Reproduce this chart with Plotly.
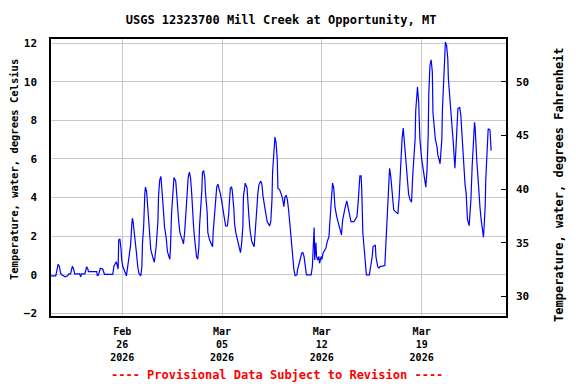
import pandas as pd
import plotly.graph_objects as go

# ---------------- data ----------------
start_time = "2026-02-21 00:00"
hours_since_start = [
    0, 8, 10, 12, 14, 16, 18, 21, 24, 28, 30, 33, 35, 36, 38, 40, 48, 50, 51, 57,
    59, 60, 62, 63, 77, 78, 80, 82, 83, 87, 88, 90, 104, 106, 110, 111, 113, 114, 116, 118,
    119, 121, 126, 127, 129, 132, 134, 136, 137, 138, 140, 142, 144, 146, 148, 151, 153, 154, 156, 158,
    159, 161, 163, 165, 167, 168, 171, 174, 177, 180, 181, 183, 185, 186, 188, 190, 191, 194, 196, 200,
    201, 203, 205, 207, 210, 212, 213, 215, 217, 218, 220, 222, 223, 225, 227, 229, 231, 233, 235, 237,
    238, 240, 242, 244, 245, 247, 249, 250, 252, 254, 255, 257, 259, 260, 263, 264, 267, 269, 272, 273,
    276, 278, 279, 281, 283, 285, 287, 290, 291, 294, 297, 299, 301, 302, 304, 305, 308, 309, 311, 314,
    316, 319, 321, 323, 324, 327, 330, 331, 333, 335, 337, 338, 342, 343, 346, 348, 350, 353, 355, 357,
    360, 362, 364, 368, 370, 372, 373, 375, 377, 379, 381, 382, 385, 388, 390, 392, 394, 396, 398, 400,
    402, 404, 405, 407, 409, 411, 414, 415, 417, 419, 420, 422, 424, 426, 427, 429, 430, 438, 440, 443,
    444, 446, 447, 449, 451, 452, 455, 456, 458, 461, 463, 465, 468, 469, 471, 473, 474, 476, 478, 481,
    485, 486, 489, 491, 493, 495, 498, 500, 501, 503, 505, 510, 512, 515, 517, 518, 519, 520, 522, 523,
    525, 527, 530, 531, 536, 537, 539, 541, 542, 544, 546, 547, 549, 550, 552, 554, 562, 564, 565, 567,
    569, 570, 572, 574, 576, 577, 579, 584, 586, 587, 589, 591, 593, 595, 597, 599, 601, 602, 604, 607,
    609, 613, 614, 616, 617, 619, 621, 624, 626, 628, 630, 631, 633, 635, 636, 638, 640, 642, 643, 645,
    647, 650, 651, 655, 658, 659, 662, 663, 664, 666, 668, 669, 672, 673, 675, 677, 678, 680, 682, 683,
    685, 688, 690, 692, 694, 695, 697, 699, 700, 701, 704, 707, 709, 711, 713, 714, 715, 717, 719, 720,
    722, 724, 726, 728, 729, 731, 732, 734, 736, 739, 740, 741,
]
temp_c = [
    -0.05, -0.05, 0.25, 0.55, 0.45, 0.1, 0.0, -0.05, -0.1, -0.05, 0.05, 0.05, 0.3, 0.45, 0.3, 0.05, 0.05, -0.1, 0.05, 0.05,
    0.3, 0.42, 0.3, 0.17, 0.17, -0.05, 0.0, 0.3, 0.34, 0.3, 0.15, 0.03, 0.03, 0.46, 0.68, 0.5, 0.3, 1.8, 1.86, 1.29,
    0.77, 0.42, 0.08, -0.05, 0.4, 1.03, 1.55, 2.6, 2.93, 2.8, 2.3, 1.8, 1.1, 0.42, 0.08, -0.05, 0.42, 1.64, 2.5, 4.23,
    4.54, 4.3, 3.36, 2.5, 1.8, 1.3, 0.95, 0.65, 1.46, 2.76, 4.05, 4.9, 5.1, 4.8, 3.88, 3.0, 2.5, 1.9, 1.2, 0.81,
    1.3, 3.19, 4.4, 5.04, 4.85, 4.05, 3.27, 2.76, 2.2, 2.07, 1.9, 1.72, 1.6, 2.2, 3.19, 4.4, 5.06, 5.32, 5.0, 4.14,
    3.27, 2.5, 1.8, 1.38, 0.95, 0.81, 1.46, 2.5, 3.27, 4.4, 5.3, 5.4, 5.0, 4.3, 3.19, 2.2, 1.8, 1.64, 1.46, 2.2,
    3.19, 4.14, 4.54, 4.69, 4.5, 4.22, 3.88, 3.19, 2.93, 2.53, 2.53, 3.1, 4.05, 4.5, 4.54, 4.4, 3.36, 2.67, 2.2, 1.8,
    1.38, 1.15, 1.64, 2.5, 4.05, 4.75, 4.5, 3.88, 3.1, 2.33, 1.98, 1.72, 1.46, 2.07, 3.19, 4.14, 4.66, 4.86, 4.7, 4.05,
    3.36, 3.1, 2.76, 2.53, 2.76, 3.88, 5.3, 6.56, 7.13, 6.82, 5.9, 4.49, 4.4, 4.14, 3.93, 3.53, 4.05, 4.1, 3.88, 3.36,
    2.67, 2.17, 1.46, 0.77, 0.26, -0.04, 0.0, 0.26, 0.5, 0.6, 0.86, 1.12, 1.15, 0.95, 0.6, 0.26, 0.0, 0.0, 0.43, 2.45,
    0.77, 1.67, 0.95, 0.77, 0.95, 0.6, 0.95, 0.8, 1.12, 1.29, 1.4, 1.72, 1.98, 2.5, 3.36, 4.31, 4.75, 4.5, 3.53, 3.01,
    2.5, 2.3, 2.07, 2.84, 3.19, 3.45, 3.83, 3.53, 3.27, 3.0, 2.76, 2.76, 2.84, 3.0, 3.7, 4.2, 5.0, 5.12, 5.12, 4.57,
    2.17, 1.46, 0.6, 0.0, 0.0, 0.3, 0.6, 1.0, 1.45, 1.5, 1.55, 0.95, 0.7, 0.43, 0.35, 0.43, 0.48, 1.64, 2.5, 3.88,
    5.1, 5.52, 5.1, 4.5, 3.53, 3.36, 3.3, 3.16, 3.93, 4.62, 6.18, 7.04, 7.6, 6.87, 6.1, 5.4, 4.88, 4.19, 3.93, 3.76,
    5.14, 7.04, 8.5, 9.63, 9.72, 8.94, 7.04, 6.0, 5.57, 5.14, 4.71, 4.54, 5.4, 7.21, 9.37, 10.84, 11.13, 10.5, 8.42, 7.47,
    7.04, 6.6, 6.26, 5.75, 7.04, 8.6, 10.41, 11.7, 12.05, 11.88, 11.19, 10.15, 8.77, 8.17, 7.73, 6.96, 6.26, 5.52, 6.68, 7.73,
    8.6, 8.68, 8.25, 7.21, 6.18, 5.23, 4.71, 4.19, 3.67, 2.9, 2.55, 3.93, 5.6, 7.2, 7.9, 7.65, 6.68, 5.83, 4.97, 4.28,
    3.58, 2.9, 2.38, 1.95, 2.4, 3.58, 4.97, 6.68, 7.56, 7.5, 6.78, 6.43,
]

x_tick_dates = ["2026-02-26", "2026-03-05", "2026-03-12", "2026-03-19"]
x_tick_text = ["Feb<br>26<br>2026", "Mar<br>05<br>2026", "Mar<br>12<br>2026", "Mar<br>19<br>2026"]
c_ticks = [-2, 0, 2, 4, 6, 8, 10, 12]
f_ticks = [30, 35, 40, 45, 50]

title_text = "USGS 12323700 Mill Creek at Opportunity, MT"
left_title = "Temperature, water, degrees Celsius"
right_title = "Temperature, water, degrees Fahrenheit"
footer_text = "---- Provisional Data Subject to Revision ----"

# ---------------- build ----------------
times = pd.Timestamp(start_time) + pd.to_timedelta(hours_since_start, unit="h")
temp_f = [c * 1.8 + 32 for c in temp_c]

c_range = [-2.13, 12.21]
f_range = [c_range[0] * 1.8 + 32, c_range[1] * 1.8 + 32]
x_range = ["2026-02-21 00:00", "2026-03-24 22:00"]

FONT = "DejaVu Sans Mono"
GRID = "#c8c8c8"

fig = go.Figure()
fig.add_trace(go.Scatter(x=times, y=temp_c, mode="lines",
                         line=dict(color="#0000ff", width=1.2), showlegend=False,
                         hoverinfo="x+y"))
fig.add_trace(go.Scatter(x=times, y=temp_f, mode="lines", yaxis="y2",
                         line=dict(color="#0000ff", width=1), opacity=0,
                         showlegend=False, hoverinfo="skip"))

fig.update_layout(
    width=576, height=384,
    margin=dict(l=51, r=70, t=39, b=68, autoexpand=False),
    paper_bgcolor="white", plot_bgcolor="white",
    font=dict(family=FONT, size=11, color="black", weight="bold"),
    title=dict(text=title_text, x=0.488, xref="container", xanchor="center",
               y=1 - 20 / 384, yref="container", yanchor="middle", automargin=False,
               font=dict(family=FONT, size=12, color="black", weight="bold")),
    xaxis=dict(range=x_range, tickvals=x_tick_dates, ticktext=x_tick_text,
               showgrid=True, gridcolor=GRID, gridwidth=1, automargin=False,
               showline=True, linecolor="black", linewidth=1.5, mirror=True,
               ticks="", ticklabelstandoff=5, zeroline=False,
               tickfont=dict(family=FONT, size=10, weight="bold")),
    yaxis=dict(range=c_range, tickvals=c_ticks, showgrid=True, gridcolor=GRID, gridwidth=1,
               zeroline=False, showline=True, linecolor="black", linewidth=1.5, mirror=True,
               ticks="", ticklabelstandoff=10, automargin=False,
               tickfont=dict(family=FONT, size=11, weight="bold")),
    yaxis2=dict(range=f_range, tickvals=f_ticks, overlaying="y", side="right",
                showgrid=False, zeroline=False, showline=False, automargin=False,
                ticks="inside", ticklen=5, tickcolor="black", tickwidth=1,
                ticklabelstandoff=9,
                tickfont=dict(family=FONT, size=11, weight="bold")),
    annotations=[
        dict(text=left_title, textangle=-90, x=0, xshift=14 - 51, xref="paper",
             y=0.527, yref="paper",
             showarrow=False, xanchor="center", yanchor="middle",
             font=dict(family=FONT, size=10.5, color="black", weight="bold")),
        dict(text=right_title, textangle=-90, x=1, xshift=559 - 506, xref="paper",
             y=0.473, yref="paper",
             showarrow=False, xanchor="center", yanchor="middle",
             font=dict(family=FONT, size=12, color="black", weight="bold")),
        dict(text=footer_text, x=0.496, xref="paper", y=-0.213, yref="paper",
             showarrow=False, xanchor="center", yanchor="middle",
             font=dict(family=FONT, size=12, color="red", weight="bold")),
    ],
)

fig.write_html(
    "out.html",
    config={"displayModeBar": False},
    post_script="document.body.style.margin='0';document.body.style.overflow='hidden';",
)
